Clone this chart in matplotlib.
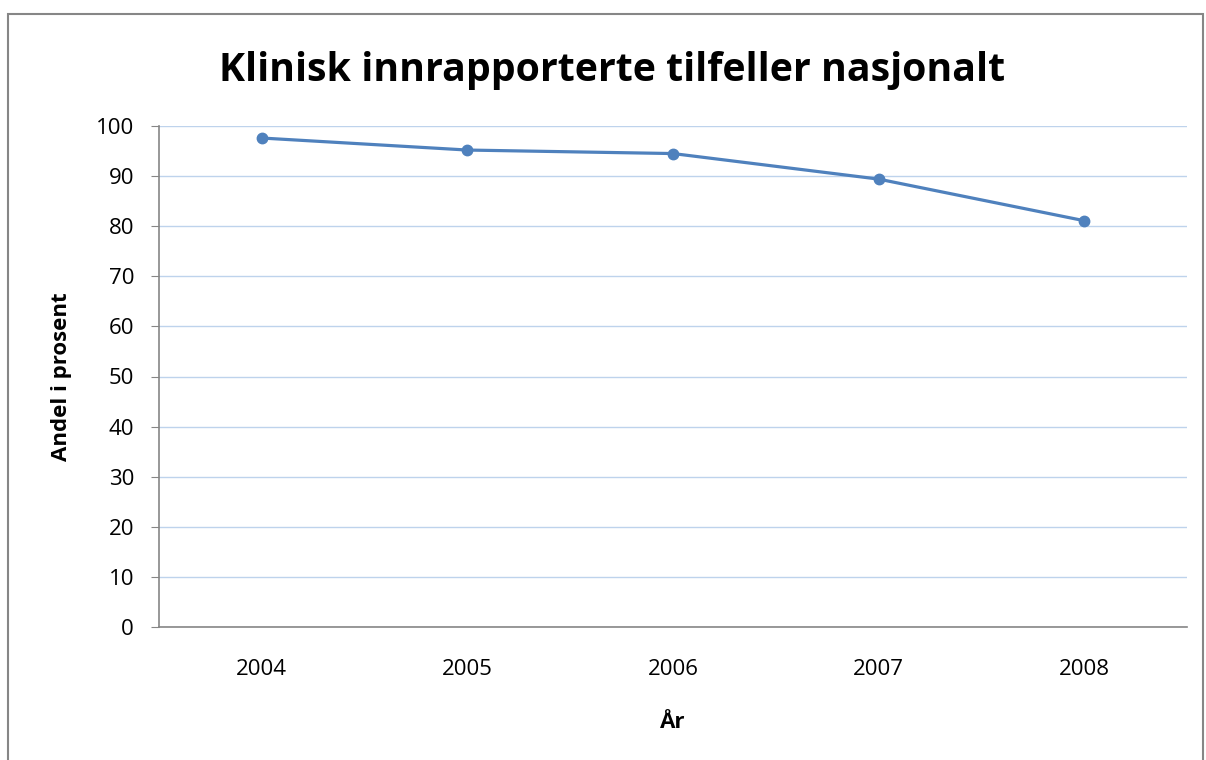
import matplotlib.pyplot as plt
from matplotlib.patches import Rectangle

# Data
years = ['2004', '2005', '2006', '2007', '2008']
andel = [97.6, 95.2, 94.5, 89.4, 81.1]

plt.rcParams['font.family'] = ['Open Sans', 'DejaVu Sans']

fig = plt.figure(figsize=(12.06, 7.6), dpi=100)
ax = fig.add_axes([159 / 1206, 1 - 627 / 760, (1187 - 159) / 1206, (627 - 126) / 760])

# outer chart border
fig.patches.append(Rectangle((8 / 1206, -0.05), (1203 - 8) / 1206, 1.05 - 14 / 760,
                             transform=fig.transFigure, fill=False,
                             edgecolor='#868686', linewidth=1.5))

x = range(len(years))
ax.plot(x, andel, color='#4f81bd', linewidth=2.3, marker='o', markersize=7.5,
        solid_capstyle='round', zorder=3)

ax.set_xlim(-0.5, len(years) - 0.5)
ax.set_ylim(0, 100)
ax.set_yticks(range(0, 101, 10))
ax.set_xticks(list(x))
ax.set_xticklabels(years)
ax.grid(axis='y', color='#bed3ec', linewidth=1)
ax.set_axisbelow(True)

for s in ['top', 'right']:
    ax.spines[s].set_visible(False)
for s in ['left', 'bottom']:
    ax.spines[s].set_color('#868686')
    ax.spines[s].set_linewidth(1.2)

ax.tick_params(axis='y', direction='out', length=6, color='#868686', labelsize=16, pad=12)
ax.tick_params(axis='x', length=0, labelsize=16, pad=23)

ax.set_xlabel('År', fontsize=16, fontweight='bold')
ax.set_ylabel('Andel i prosent', fontsize=16, fontweight='bold')
ax.xaxis.set_label_coords(0.5, (627 - 712) / 501)
ax.yaxis.set_label_coords((72 - 159) / 1028, 0.5)

fig.text(612 / 1206, 1 - 70 / 760, 'Klinisk innrapporterte tilfeller nasjonalt',
         ha='center', va='center', fontsize=28.3, fontweight='bold')

fig.savefig('out.png', dpi=100)
